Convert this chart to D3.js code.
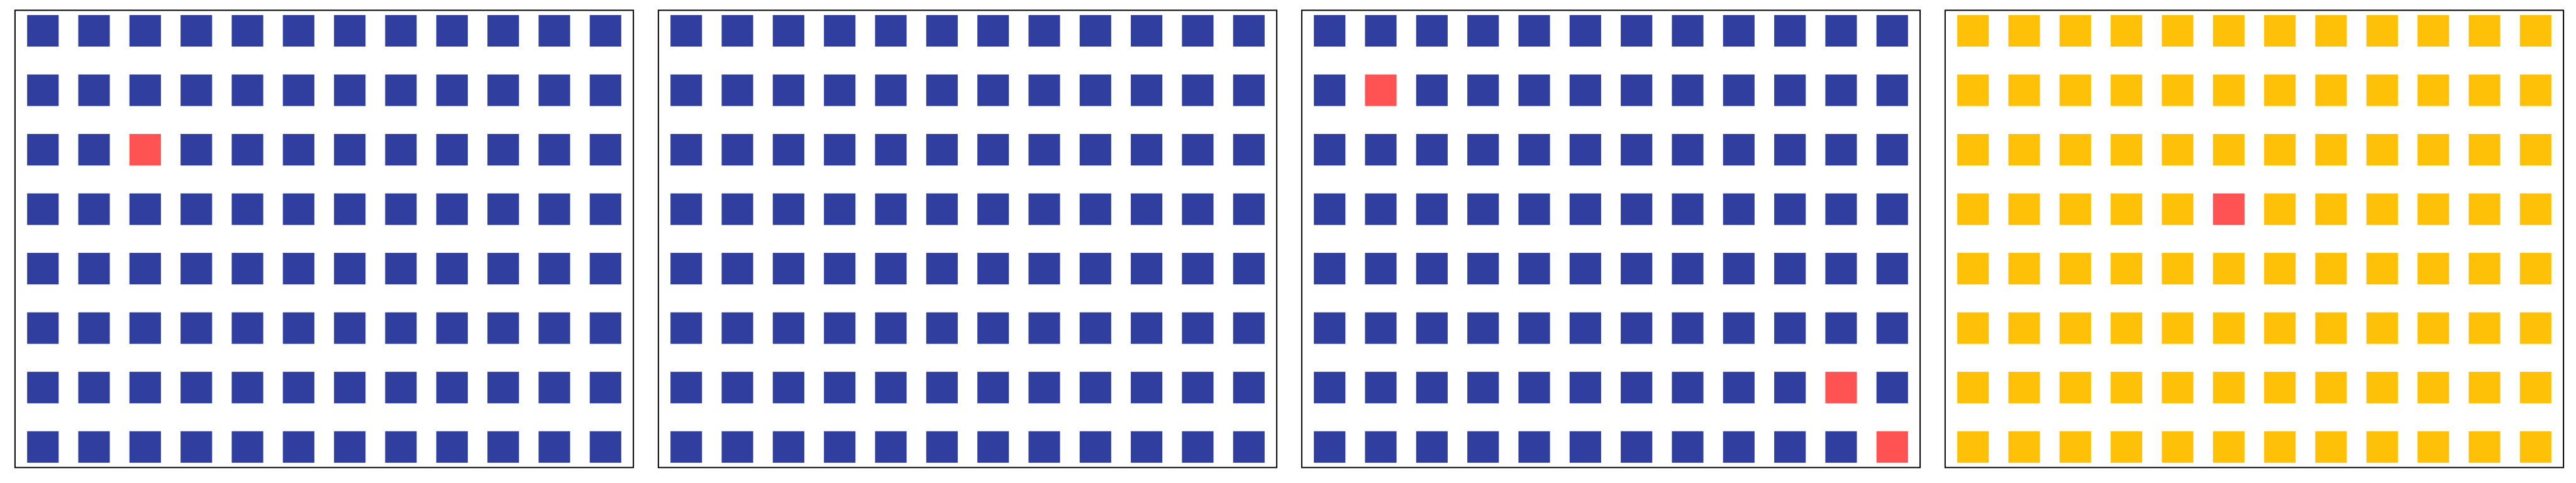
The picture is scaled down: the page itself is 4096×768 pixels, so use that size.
<!DOCTYPE html>
<html>
<head>
<meta charset="utf-8">
<script src="https://cdn.jsdelivr.net/npm/d3@7"></script>
<style>
html, body { margin: 0; padding: 0; background: #fff; }
svg { display: block; }
</style>
</head>
<body>
<script>
// Grid dimensions
const columns = d3.range(12);
const rows = d3.range(8);
// Panel base colours
const panelColors = ["#303F9F", "#303F9F", "#303F9F", "#FFC107"];
// Highlighted cells per panel: [row (from top), column]
const highlights1 = [[2, 2]];
const highlights2 = [];
const highlights3 = [[1, 1], [6, 10], [7, 11]];
const highlights4 = [[3, 5]];
const highlightColor = "#FF5252";

const panelHighlights = [highlights1, highlights2, highlights3, highlights4];

const W = 4096, H = 768, S = 0.682;
const svg = d3.select("body").append("svg").attr("width", W).attr("height", H);

const pw = 1441.7 * S, ph = 1066 * S;
const size = 73.5 * S;

const x = d3.scaleLinear().domain([-0.545, 11.545]).range([0, pw]);
const y = d3.scaleLinear().domain([-0.345, 7.345]).range([0, ph]);

panelColors.forEach((col, i) => {
  const g = svg.append("g").attr("transform", `translate(${(35 + 1500 * i) * S},${24 * S})`);
  const hl = new Set(panelHighlights[i].map(d => d[0] + "_" + d[1]));
  const cells = [];
  rows.forEach(r => columns.forEach(c => cells.push({ r, c })));
  g.selectAll("rect.cell").data(cells).enter().append("rect")
    .attr("class", "cell")
    .attr("x", d => x(d.c) - size / 2)
    .attr("y", d => y(d.r) - size / 2)
    .attr("width", size).attr("height", size)
    .attr("fill", d => hl.has(d.r + "_" + d.c) ? highlightColor : col);
  g.append("rect").attr("x", 0).attr("y", 0).attr("width", pw).attr("height", ph)
    .attr("fill", "none").attr("stroke", "#000").attr("stroke-width", 2);
});
</script>
</body>
</html>
